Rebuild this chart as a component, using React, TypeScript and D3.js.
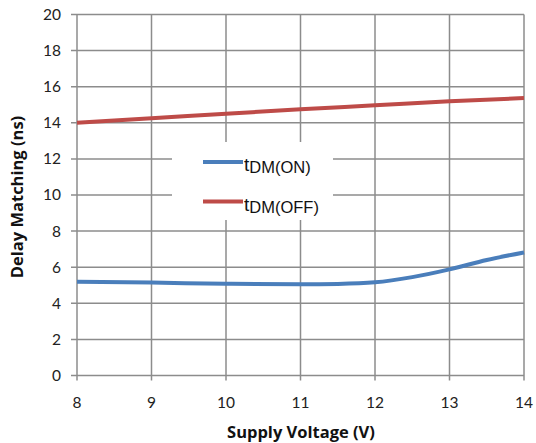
import React from "react";
import * as d3 from "d3";

const voltages = [8, 9, 10, 11, 11.5, 12, 12.5, 13, 13.5, 14];
const tdmOn = [5.2, 5.15, 5.08, 5.05, 5.07, 5.16, 5.45, 5.88, 6.4, 6.82];
const voltagesOff = [8, 9, 10, 11, 12, 13, 14];
const tdmOff = [14.0, 14.25, 14.5, 14.75, 14.97, 15.2, 15.37];
const xTicks = [8, 9, 10, 11, 12, 13, 14];
const yTicks = [0, 2, 4, 6, 8, 10, 12, 14, 16, 18, 20];
const legendLabels = [
  { sub: "DM(ON)", color: "#4a7ebb" },
  { sub: "DM(OFF)", color: "#be4b48" },
];

const W = 536;
const H = 443;
const left = 77;
const right = 524;
const top = 14.5;
const bottom = 375.5;

export default function App() {
  const x = d3.scaleLinear().domain([8, 14]).range([left, right]);
  const y = d3.scaleLinear().domain([0, 20]).range([bottom, top]);
  const line = d3
    .line<[number, number]>()
    .x((d) => x(d[0]))
    .y((d) => y(d[1]))
    .curve(d3.curveMonotoneX);
  const onPts: [number, number][] = voltages.map((v, i) => [v, tdmOn[i]]);
  const offPts: [number, number][] = voltagesOff.map((v, i) => [v, tdmOff[i]]);
  const grid = "#8c8c8c";
  const tickFont = "Lato, 'Open Sans', sans-serif";
  const titleFont = "'Open Sans', Lato, sans-serif";

  return (
    <div style={{ position: "absolute", left: 0, top: 0 }}>
      <svg width={W} height={H} style={{ display: "block", background: "#fff" }}>
        {yTicks.map((t) => (
          <line key={"h" + t} x1={left - 6} x2={right} y1={y(t)} y2={y(t)} stroke={grid} strokeWidth={1.5} />
        ))}
        {xTicks.map((t) => (
          <line key={"v" + t} x1={x(t)} x2={x(t)} y1={top} y2={bottom + 5} stroke={grid} strokeWidth={1.5} />
        ))}
        {yTicks.map((t) => (
          <text key={"yl" + t} x={61} y={y(t)} dy="0.35em" textAnchor="end" fontFamily={tickFont} fontSize={15.5} fill="#222">
            {t}
          </text>
        ))}
        {xTicks.map((t) => (
          <text key={"xl" + t} x={x(t)} y={408} textAnchor="middle" fontFamily={tickFont} fontSize={15.5} fill="#222">
            {t}
          </text>
        ))}
        <rect x={172} y={142} width={161} height={78} fill="#fff" />
        {legendLabels.map((l, i) => {
          const ly = 162 + i * 39.5;
          return (
            <g key={l.sub}>
              <line x1={203} x2={243} y1={ly} y2={ly} stroke={l.color} strokeWidth={4} />
              <text x={244} y={ly + 9} fontFamily="'Liberation Sans', Arial, sans-serif" fill="#111">
                <tspan fontSize={19}>t</tspan>
                <tspan fontSize={16.5} dy={2}>{l.sub}</tspan>
              </text>
            </g>
          );
        })}
        <path d={line(offPts) || ""} fill="none" stroke="#be4b48" strokeWidth={4} />
        <path d={line(onPts) || ""} fill="none" stroke="#4a7ebb" strokeWidth={4} />
        <text x={301} y={438} textAnchor="middle" fontFamily={titleFont} fontWeight="bold" fontSize={16.5} fill="#111">
          Supply Voltage (V)
        </text>
        <text
          transform={`translate(23,${197}) rotate(-90)`}
          textAnchor="middle"
          fontFamily={titleFont}
          fontWeight="bold"
          fontSize={16.5}
          fill="#111"
        >
          Delay Matching (ns)
        </text>
      </svg>
    </div>
  );
}
